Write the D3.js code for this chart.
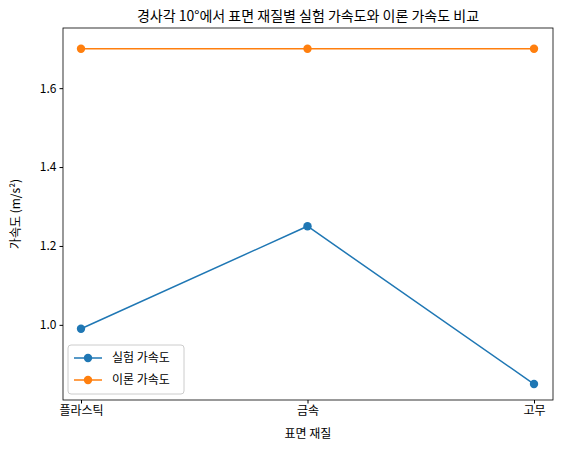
<!DOCTYPE html>
<html><head><meta charset="utf-8">
<script src="https://cdn.jsdelivr.net/npm/d3@7"></script>
<style>body{margin:0;background:#fff}text{font-family:"Noto Sans CJK KR","Noto Sans",sans-serif}</style>
</head><body><svg id="c" width="565" height="454"></svg>
<script>
const categories = ["플라스틱","금속","고무"];
const experimental = [0.99, 1.25, 0.85];
const theoretical = [1.7, 1.7, 1.7];
const yTicks = [1.0, 1.2, 1.4, 1.6];
const seriesNames = ["실험 가속도","이론 가속도"];
const colors = ["#1f77b4","#ff7f0e"];

const svg = d3.select("#c");
const L=63,R=553,T=28,B=400;
const x = d3.scalePoint().domain(categories).range([81,534]);
const y = d3.scaleLinear().domain([0.8095,1.7525]).range([B,T]);
const g = svg.append("g");
g.append("g").attr("transform",`translate(0,${B})`).call(d3.axisBottom(x).tickSize(3.5).tickPadding(3))
 .call(a=>a.select(".domain").remove()).selectAll("text").attr("font-size",12).attr("fill","#000");
g.append("g").attr("transform",`translate(${L},0)`).call(d3.axisLeft(y).tickValues(yTicks).tickFormat(d3.format(".1f")).tickSize(3.5).tickPadding(3))
 .call(a=>a.select(".domain").remove()).selectAll("text").attr("font-size",12).attr("fill","#000");
g.append("rect").attr("x",L).attr("y",T).attr("width",R-L).attr("height",B-T).attr("fill","none").attr("stroke","#000").attr("stroke-width",0.8);
[experimental,theoretical].forEach((s,i)=>{
  g.append("path").datum(s).attr("fill","none").attr("stroke",colors[i]).attr("stroke-width",1.5)
   .attr("d",d3.line().x((d,j)=>x(categories[j])).y(d=>y(d)));
  g.selectAll(null).data(s).enter().append("circle").attr("cx",(d,j)=>x(categories[j])).attr("cy",d=>y(d)).attr("r",4.2).attr("fill",colors[i]);
});
svg.append("text").attr("x",308).attr("y",21).attr("text-anchor","middle").attr("font-size",14).text("경사각 10°에서 표면 재질별 실험 가속도와 이론 가속도 비교");
svg.append("text").attr("x",308).attr("y",438).attr("text-anchor","middle").attr("font-size",12).text("표면 재질");
svg.append("text").attr("transform","translate(20,214) rotate(-90)").attr("text-anchor","middle").attr("font-size",12).text("가속도 (m/s²)");
const lg = svg.append("g").attr("transform","translate(68,345)");
lg.append("rect").attr("width",116).attr("height",49).attr("rx",3).attr("fill","#fff").attr("stroke","#ccc");
seriesNames.forEach((n,i)=>{
  const yy=13+i*22;
  lg.append("line").attr("x1",6).attr("x2",34).attr("y1",yy).attr("y2",yy).attr("stroke",colors[i]).attr("stroke-width",1.5);
  lg.append("circle").attr("cx",20).attr("cy",yy).attr("r",4.2).attr("fill",colors[i]);
  lg.append("text").attr("x",44).attr("y",yy+4).attr("font-size",12).text(n);
});
</script></body></html>
